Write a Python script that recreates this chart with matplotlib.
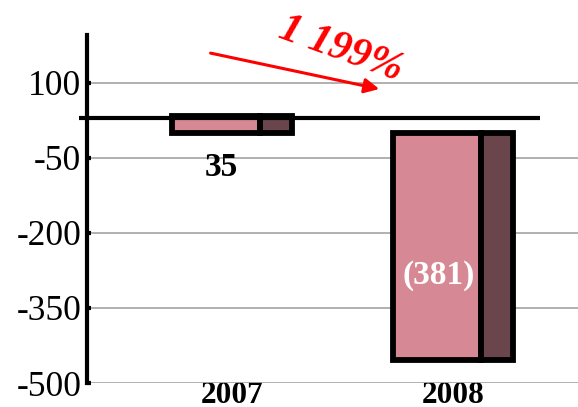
import matplotlib
matplotlib.use("Agg")
import matplotlib.pyplot as plt

# data
years = ["2007", "2008"]
bar_heights = [33, -455]
value_labels = ["35", "(381)"]
change_label = "1 199%"
floor_level = 29
yticks = [100, -50, -200, -350, -500]

plt.rcParams["font.family"] = ["Liberation Serif", "DejaVu Serif"]

front_color = "#d68994"
side_color = "#6b454c"
front_w = 0.398
side_w = 0.145
total_w = front_w + side_w

fig = plt.figure(figsize=(5.78, 4.07), dpi=100)
ax = fig.add_axes([87 / 578, 24 / 407, 1 - 87 / 578, (383 - 35) / 407])

pos = list(range(len(years)))
left = [p - total_w / 2 for p in pos]
ax.bar(left, bar_heights, width=front_w, align="edge", color=front_color,
       edgecolor="black", linewidth=4.2, zorder=3)
ax.bar([l + front_w for l in left], bar_heights, width=side_w, align="edge",
       color=side_color, edgecolor="black", linewidth=4.2, zorder=3)

# floor line
ax.plot([-0.692, 1.394], [floor_level, floor_level], color="black",
        linewidth=3, zorder=4, clip_on=False, solid_capstyle="butt")

# value labels
ax.text(left[0] + front_w / 2 + 0.023, -70, value_labels[0], ha="center",
        va="center", fontsize=24, fontweight="bold", color="black")
ax.text(left[1] + front_w / 2 + 0.01, -286, value_labels[1], ha="center",
        va="center", fontsize=24, fontweight="bold", color="white", zorder=5)

# change arrow + label
ax.annotate("", xy=(0.679, 86), xytext=(-0.109, 160),
            arrowprops=dict(arrowstyle="-|>", color="red", lw=2.2,
                            mutation_scale=22), annotation_clip=False)
ax.text(0.493, 166, change_label, ha="center", va="center", rotation=-20,
        fontsize=30, fontweight="bold", fontstyle="italic", color="red",
        clip_on=False)

ax.set_xlim(-0.656, 1.566)
ax.set_ylim(-500, 195)
ax.set_yticks(yticks)
ax.set_yticklabels([str(v) for v in yticks])
ax.set_xticks(pos)
ax.set_xticklabels(years, fontweight="bold")
ax.yaxis.grid(True, color="#aaaaaa", linewidth=1.3, zorder=0)
ax.set_axisbelow(True)

for s in ["top", "right", "bottom"]:
    ax.spines[s].set_visible(False)
ax.spines["left"].set_linewidth(3)
ax.tick_params(axis="y", direction="in", length=3, width=3, pad=4,
               labelsize=25.5)
ax.tick_params(axis="x", length=0, pad=-1.5, labelsize=22.5)

fig.savefig("out.png", dpi=100)
